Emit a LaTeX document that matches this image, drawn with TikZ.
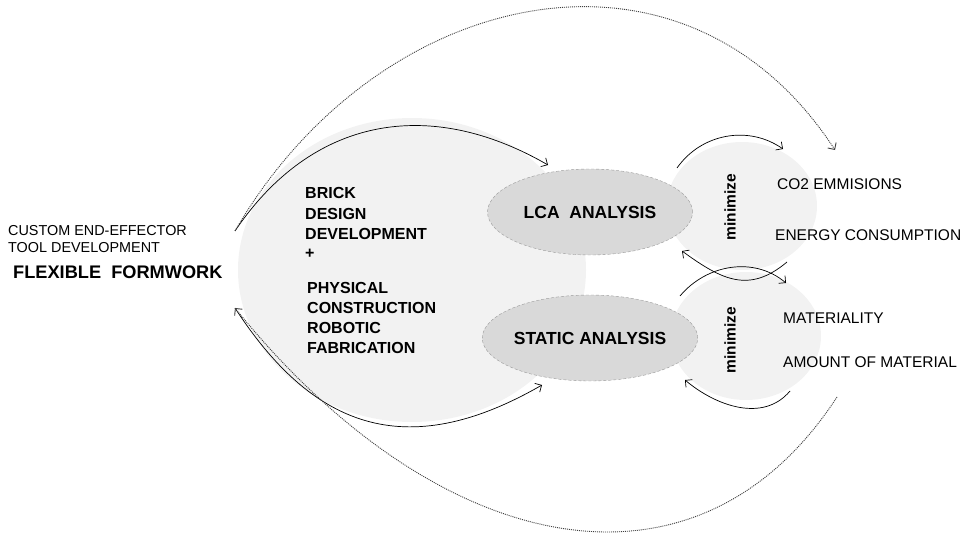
\documentclass[tikz,border=0pt]{standalone}
\usepackage{fontspec}
\setmainfont{Liberation Sans}
\usetikzlibrary{arrows.meta,shapes.geometric}
\begin{document}
\begin{tikzpicture}[x=1pt,y=1pt,
  lightfill/.style={fill=black!5,draw=none},
  analysis/.style={ellipse,fill=black!15,draw=black!40,densely dashed,line width=0.4pt,
    minimum width=205pt,minimum height=86pt,inner sep=0pt,font=\fontsize{17.5}{20}\selectfont\bfseries},
  conn/.style={line width=0.7pt,-{Straight Barb[length=5pt,width=10pt]}},
  dconn/.style={conn,line width=0.9pt,dash pattern=on 1pt off 1pt,draw=black!75},
  lbl/.style={anchor=base west,inner sep=0pt,font=\fontsize{14.4}{17}\selectfont},
  rlbl/.style={anchor=base west,inner sep=0pt,font=\fontsize{15.5}{18}\selectfont},
  blbl/.style={anchor=base west,inner sep=0pt,font=\fontsize{16}{20}\selectfont\bfseries},
  minlbl/.style={rotate=90,inner sep=0pt,font=\fontsize{15.5}{18}\selectfont\bfseries}
]
\useasboundingbox (0,0) rectangle (962,-535);

% light backgrounds
\fill[lightfill] (412,-270) ellipse [x radius=174pt, y radius=152pt];
\fill[lightfill] (742,-206) ellipse [x radius=75pt, y radius=64pt];
\fill[lightfill] (746,-336) ellipse [x radius=75pt, y radius=64pt];

% analysis ellipses
\node[analysis] (lca) at (590,-212) {LCA\ \ ANALYSIS};
\node[analysis] (stat) at (590,-338) {STATIC ANALYSIS};

% left texts
\node[lbl] (t1) at (8,-235) {CUSTOM END-EFFECTOR};
\node[lbl] (t2) at (8,-252) {TOOL DEVELOPMENT};
\node[anchor=base west,inner sep=0pt,font=\fontsize{18.2}{21}\selectfont\bfseries] (ff) at (13,-278) {FLEXIBLE\ \ FORMWORK};

% brick block
\node[blbl] (b1) at (305,-198) {BRICK};
\node[blbl] (b2) at (305,-219) {DESIGN};
\node[blbl] (b3) at (305,-239) {DEVELOPMENT};
\node[blbl] (b4) at (305,-258) {+};
\node[blbl] (b5) at (307,-293) {PHYSICAL};
\node[blbl] (b6) at (307,-313) {CONSTRUCTION};
\node[blbl] (b7) at (307,-333) {ROBOTIC};
\node[blbl] (b8) at (307,-353) {FABRICATION};

% minimize labels
\node[minlbl] (m1) at (730,-207) {minimize};
\node[minlbl] (m2) at (730,-340) {minimize};

% right texts
\node[rlbl] (r1) at (777,-189) {CO2 EMMISIONS};
\node[rlbl] (r2) at (775,-240) {ENERGY CONSUMPTION};
\node[rlbl] (r3) at (783,-323) {MATERIALITY};
\node[rlbl] (r4) at (783,-367) {AMOUNT OF MATERIAL};

% connector end points
\coordinate (ltop) at (235,-231);
\coordinate (lbot) at (235,-308);
\coordinate (lcain) at (548,-165);
\coordinate (statin) at (542,-385);
\coordinate (co2in) at (835,-150);
\coordinate (dotstart) at (837,-397);
\coordinate (s1a) at (677,-168);
\coordinate (s1b) at (783,-149);
\coordinate (s2a) at (787,-262);
\coordinate (s2b) at (682,-251);
\coordinate (s3a) at (680,-296);
\coordinate (s3b) at (786,-283);
\coordinate (s4a) at (790,-391);
\coordinate (s4b) at (685,-380);

% big arcs
\draw[conn] (ltop) to[out=56,in=150,looseness=1.1] (lcain);
\draw[conn] (lbot) .. controls (311,-425) and (403,-465) .. (statin);
\draw[dconn] (ltop) .. controls (375,11.5) and (682,85) .. (co2in);
\draw[dconn] (dotstart) .. controls (695,-615) and (436,-557) .. (lbot);

% small arcs
\draw[conn] (s1a) to[out=55,in=145] (s1b);
\draw[conn] (s2a) to[out=220,in=-36,looseness=1.2] (s2b);
\draw[conn] (s3a) to[out=50,in=140] (s3b);
\draw[conn] (s4a) to[out=230,in=-40] (s4b);
\end{tikzpicture}
\end{document}
